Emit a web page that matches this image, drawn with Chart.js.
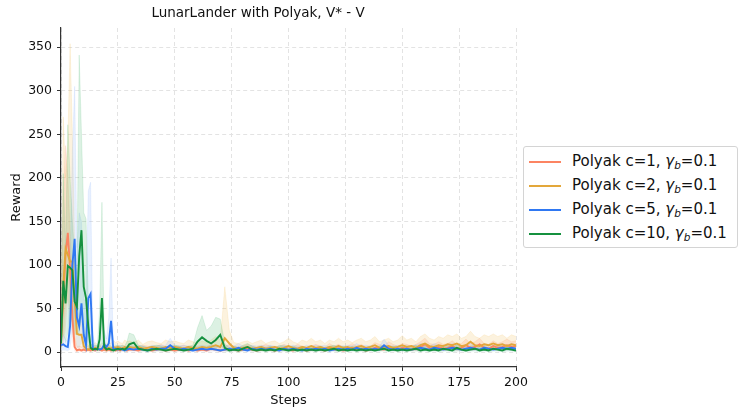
<!DOCTYPE html>
<html>
<head>
<meta charset="utf-8">
<script src="https://cdn.jsdelivr.net/npm/chart.js@4"></script>
<style>
  html, body { margin: 0; padding: 0; background: #fff; }
  #wrap { position: relative; width: 748px; height: 417px; }
  #legend {
    position: absolute; left: 523px; top: 146px; width: 215px; height: 102px;
    box-sizing: border-box; border: 1px solid #d4d4d4; border-radius: 3px; background: #fff;
    font-family: "DejaVu Sans", sans-serif; font-size: 15px; color: #111;
  }
  .item { position: absolute; left: 5px; height: 20px; line-height: 20px; white-space: nowrap; }
  .item span.sw { display: inline-block; width: 32px; height: 2px; vertical-align: middle; margin-right: 11px; }
  .item i { font-style: italic; }
  .item sub { font-size: 10.5px; font-style: italic; vertical-align: -3px; line-height: 0; }
</style>
</head>
<body>
<div id="wrap">
  <canvas id="chart" width="748" height="417"></canvas>
  <div id="legend"></div>
</div>
<script>
// Steps (x values): every step up to 30, every second step after
const steps = [
  0, 1, 2, 3, 4, 5, 6, 7, 8, 9,
  10, 11, 12, 13, 14, 15, 16, 17, 18, 19,
  20, 21, 22, 23, 24, 25, 26, 27, 28, 29, 30,
  32, 34, 36, 38, 40, 42, 44, 46, 48, 50,
  52, 54, 56, 58, 60, 62, 64, 66, 68, 70,
  72, 74, 76, 78, 80, 82, 84, 86, 88, 90,
  92, 94, 96, 98, 100, 102, 104, 106, 108, 110,
  112, 114, 116, 118, 120, 122, 124, 126, 128, 130,
  132, 134, 136, 138, 140, 142, 144, 146, 148, 150,
  152, 154, 156, 158, 160, 162, 164, 166, 168, 170,
  172, 174, 176, 178, 180, 182, 184, 186, 188, 190,
  192, 194, 196, 198, 200
];

const xTicks = [0, 25, 50, 75, 100, 125, 150, 175, 200];
const yTicks = [0, 50, 100, 150, 200, 250, 300, 350];

// Polyak c=1
const c1Mean = [
  15, 60, 112, 137, 95, 40, 6, 2, 3, 2,
  3, 2, 3, 2, 3, 2, 4, 3, 2, 3,
  2, 3, 2, 3, 2, 3, 2, 4, 3, 2, 3,
  3, 2, 4, 3, 2, 3, 4, 2, 3, 2,
  3, 4, 2, 3, 2, 3, 2, 4, 3, 2,
  3, 4, 3, 2, 3, 4, 3, 2, 3, 4,
  3, 2, 3, 4, 3, 2, 4, 3, 2, 3,
  4, 3, 2, 5, 3, 4, 2, 3, 5, 3,
  4, 2, 3, 5, 4, 3, 6, 4, 3, 5,
  4, 3, 4, 6, 9, 5, 4, 6, 4, 5,
  7, 4, 5, 8, 5, 6, 9, 5, 4, 7,
  5, 6, 8, 6, 7
];
const c1Upper = [
  30, 172, 237, 200, 140, 80, 20, 6, 7, 6,
  7, 6, 7, 5, 7, 6, 8, 7, 6, 7,
  6, 7, 5, 7, 6, 7, 6, 8, 7, 6, 7,
  7, 6, 8, 7, 6, 7, 9, 6, 7, 6,
  7, 8, 6, 7, 6, 7, 6, 9, 7, 6,
  7, 9, 7, 6, 7, 9, 7, 6, 7, 9,
  7, 6, 7, 9, 7, 6, 9, 7, 6, 7,
  9, 7, 6, 10, 7, 9, 6, 7, 10, 7,
  9, 6, 7, 11, 9, 7, 12, 9, 7, 10,
  9, 7, 9, 12, 16, 10, 9, 12, 9, 10,
  13, 9, 10, 15, 10, 12, 16, 10, 9, 13,
  10, 12, 15, 12, 13
];
const c1Lower = [
  5, 10, 25, 60, 45, 12, 1, 0, 1, 0,
  1, 0, 1, 0, 1, 0, 1, 1, 0, 1,
  0, 1, 0, 1, 0, 1, 0, 1, 1, 0, 1,
  1, 0, 1, 1, 0, 1, 1, 0, 1, 0,
  1, 1, 0, 1, 0, 1, 0, 1, 1, 0,
  1, 1, 1, 0, 1, 1, 1, 0, 1, 1,
  1, 0, 1, 1, 1, 0, 1, 1, 0, 1,
  1, 1, 0, 2, 1, 1, 0, 1, 2, 1,
  1, 0, 1, 2, 1, 1, 2, 1, 1, 2,
  1, 1, 1, 2, 4, 2, 1, 2, 1, 2,
  3, 1, 2, 3, 2, 2, 4, 2, 1, 3,
  2, 2, 3, 2, 3
];

// Polyak c=2
const c2Mean = [
  10, 75, 119, 112, 104, 104, 60, 21, 20, 20,
  7, 4, 3, 4, 3, 5, 4, 3, 4, 5,
  4, 5, 4, 6, 5, 6, 5, 4, 6, 5, 6,
  5, 6, 4, 5, 6, 5, 4, 6, 5, 6,
  5, 4, 6, 5, 4, 6, 5, 6, 8, 6,
  16, 10, 5, 4, 5, 6, 4, 5, 6, 4,
  5, 6, 4, 5, 7, 5, 4, 6, 5, 7,
  5, 6, 4, 6, 5, 7, 5, 6, 4, 6,
  7, 5, 6, 8, 5, 6, 7, 5, 6, 8,
  6, 7, 5, 8, 10, 7, 6, 8, 7, 9,
  8, 10, 7, 8, 12, 8, 7, 9, 8, 10,
  8, 9, 7, 9, 8
];
const c2Upper = [
  30, 270, 200, 240, 354, 250, 120, 50, 40, 35,
  15, 10, 8, 9, 8, 11, 9, 8, 10, 11,
  9, 12, 10, 14, 11, 13, 11, 10, 14, 12, 13,
  11, 14, 9, 12, 13, 11, 10, 14, 12, 13,
  11, 10, 14, 12, 10, 13, 11, 14, 18, 14,
  75, 25, 11, 10, 12, 13, 10, 12, 14, 10,
  12, 13, 10, 12, 16, 12, 10, 14, 12, 16,
  12, 14, 10, 14, 12, 16, 12, 14, 11, 14,
  16, 12, 14, 18, 12, 14, 16, 12, 14, 19,
  14, 16, 12, 18, 21, 16, 14, 18, 16, 20,
  18, 21, 16, 18, 24, 18, 16, 20, 18, 21,
  18, 20, 16, 20, 18
];
const c2Lower = [
  2, 10, 50, 60, 30, 40, 15, 5, 5, 5,
  2, 1, 1, 1, 1, 2, 1, 1, 1, 2,
  1, 2, 1, 2, 2, 2, 2, 1, 2, 2, 2,
  2, 2, 1, 2, 2, 2, 1, 2, 2, 2,
  2, 1, 2, 2, 1, 2, 2, 2, 3, 2,
  3, 2, 2, 1, 2, 2, 1, 2, 2, 1,
  2, 2, 1, 2, 2, 2, 1, 2, 2, 2,
  2, 2, 1, 2, 2, 2, 2, 2, 1, 2,
  2, 2, 2, 3, 2, 2, 2, 2, 2, 3,
  2, 2, 2, 3, 4, 2, 2, 3, 2, 3,
  3, 4, 2, 3, 4, 3, 2, 3, 3, 4,
  3, 3, 2, 3, 3
];

// Polyak c=5
const c5Mean = [
  8, 9, 7, 6, 30, 100, 130, 40, 30, 56,
  20, 8, 62, 67, 4, 3, 4, 3, 4, 9,
  6, 10, 36, 3, 4, 3, 4, 3, 2, 3, 4,
  3, 4, 3, 2, 4, 3, 4, 4, 8, 4,
  3, 4, 3, 2, 3, 4, 3, 4, 3, 2,
  3, 4, 3, 5, 3, 2, 4, 3, 4, 3,
  4, 3, 2, 4, 3, 4, 3, 2, 4, 3,
  4, 3, 4, 2, 3, 4, 3, 4, 3, 5,
  3, 4, 3, 4, 3, 8, 4, 3, 4, 3,
  4, 3, 4, 5, 4, 3, 5, 4, 3, 4,
  5, 4, 3, 4, 5, 4, 3, 5, 4, 3,
  4, 5, 4, 5, 4
];
const c5Upper = [
  15, 20, 15, 12, 100, 230, 305, 120, 160, 150,
  60, 60, 185, 195, 20, 8, 8, 7, 8, 25,
  15, 40, 108, 8, 8, 7, 8, 7, 6, 7, 8,
  7, 8, 7, 6, 8, 7, 8, 8, 16, 8,
  7, 8, 7, 6, 7, 8, 7, 8, 7, 6,
  7, 8, 7, 10, 7, 6, 8, 7, 8, 7,
  8, 7, 6, 8, 7, 8, 7, 6, 8, 7,
  8, 7, 8, 6, 7, 8, 7, 8, 7, 10,
  7, 8, 7, 8, 7, 15, 8, 7, 8, 7,
  8, 7, 8, 10, 8, 7, 10, 8, 7, 8,
  10, 8, 7, 8, 10, 8, 7, 10, 8, 7,
  8, 10, 8, 10, 8
];
const c5Lower = [
  2, 2, 2, 1, 3, 20, 30, 5, 5, 10,
  3, 2, 10, 15, 1, 1, 1, 1, 1, 2,
  1, 2, 4, 1, 1, 1, 1, 1, 0, 1, 1,
  1, 1, 1, 0, 1, 1, 1, 1, 2, 1,
  1, 1, 1, 0, 1, 1, 1, 1, 1, 0,
  1, 1, 1, 1, 1, 0, 1, 1, 1, 1,
  1, 1, 0, 1, 1, 1, 1, 0, 1, 1,
  1, 1, 1, 0, 1, 1, 1, 1, 1, 1,
  1, 1, 1, 1, 1, 2, 1, 1, 1, 1,
  1, 1, 1, 1, 1, 1, 1, 1, 1, 1,
  1, 1, 1, 1, 1, 1, 1, 1, 1, 1,
  1, 1, 1, 1, 1
];

// Polyak c=10
const c10Mean = [
  10, 82, 56, 99, 97, 94, 58, 52, 110, 140,
  75, 62, 30, 5, 3, 4, 3, 15, 62, 6,
  3, 4, 3, 2, 3, 4, 3, 4, 3, 5, 9,
  11, 4, 3, 2, 3, 4, 3, 2, 3, 4,
  3, 2, 3, 4, 12, 17, 13, 10, 14, 20,
  5, 2, 3, 2, 4, 6, 3, 2, 3, 2,
  3, 2, 4, 3, 2, 3, 2, 3, 2, 3,
  2, 3, 2, 3, 4, 2, 3, 2, 3, 2,
  3, 2, 3, 2, 3, 4, 2, 3, 2, 3,
  2, 3, 4, 2, 3, 2, 3, 2, 4, 3,
  2, 5, 3, 2, 3, 4, 2, 3, 2, 4,
  3, 2, 4, 3, 2
];
const c10Upper = [
  20, 205, 120, 261, 200, 150, 110, 90, 341, 250,
  160, 153, 60, 10, 7, 8, 7, 50, 172, 15,
  7, 8, 7, 5, 7, 8, 7, 8, 7, 12, 22,
  20, 8, 7, 5, 7, 8, 7, 5, 7, 8,
  7, 5, 7, 8, 28, 42, 25, 30, 40, 38,
  10, 5, 7, 5, 8, 10, 7, 5, 7, 5,
  7, 5, 8, 7, 5, 7, 5, 7, 5, 7,
  5, 7, 5, 7, 8, 5, 7, 5, 7, 5,
  7, 5, 7, 5, 7, 8, 5, 7, 5, 7,
  5, 7, 8, 5, 7, 5, 7, 5, 8, 7,
  5, 9, 7, 5, 7, 8, 5, 7, 5, 8,
  7, 5, 8, 7, 5
];
const c10Lower = [
  3, 20, 10, 20, 30, 40, 20, 20, 20, 40,
  20, 10, 3, 1, 1, 1, 1, 3, 10, 1,
  1, 1, 1, 0, 1, 1, 1, 1, 1, 1, 3,
  3, 1, 1, 0, 1, 1, 1, 0, 1, 1,
  1, 0, 1, 1, 4, 6, 4, 3, 3, 8,
  1, 0, 1, 0, 1, 2, 1, 0, 1, 0,
  1, 0, 1, 1, 0, 1, 0, 1, 0, 1,
  0, 1, 0, 1, 1, 0, 1, 0, 1, 0,
  1, 0, 1, 0, 1, 1, 0, 1, 0, 1,
  0, 1, 1, 0, 1, 0, 1, 0, 1, 1,
  0, 1, 1, 0, 1, 1, 0, 1, 0, 1,
  1, 0, 1, 1, 0
];

const seriesNames = ['c=1', 'c=2', 'c=5', 'c=10'];
const seriesColors = ['#fc8462', '#e3a73a', '#2f78f2', '#15913f'];
const bandColors = ['rgba(252,132,98,0.18)', 'rgba(240,190,90,0.2)', 'rgba(140,180,250,0.2)', 'rgba(60,180,100,0.18)'];

const means = [c1Mean, c2Mean, c5Mean, c10Mean];
const uppers = [c1Upper, c2Upper, c5Upper, c10Upper];
const lowers = [c1Lower, c2Lower, c5Lower, c10Lower];

function pts(values) {
  return values.map((v, i) => ({ x: steps[i], y: v }));
}

// bands first (drawn behind), then lines; green on top like matplotlib
const datasets = [];
for (let i = 0; i < 4; i++) {
  const lowIdx = datasets.length;
  datasets.push({
    data: pts(lowers[i]), borderWidth: 0, pointRadius: 0, fill: false,
    borderColor: 'transparent', order: 20 - i * 2
  });
  datasets.push({
    data: pts(uppers[i]), borderWidth: 0.8, pointRadius: 0,
    borderColor: bandColors[i], backgroundColor: bandColors[i],
    fill: { target: lowIdx }, order: 19 - i * 2
  });
}
for (let i = 0; i < 4; i++) {
  datasets.push({
    label: 'Polyak ' + seriesNames[i],
    data: pts(means[i]), borderColor: seriesColors[i], borderWidth: 1.9,
    pointRadius: 0, fill: false, order: 4 - i
  });
}

const tickFont = { family: 'DejaVu Sans', size: 12.5 };

new Chart(document.getElementById('chart'), {
  type: 'line',
  data: { datasets },
  options: {
    responsive: false,
    animation: false,
    events: [],
    layout: { padding: { left: 0, right: 232, top: 0, bottom: 0 } },
    plugins: {
      legend: { display: false },
      tooltip: { enabled: false },
      title: {
        display: true, text: 'LunarLander with Polyak, V* - V', color: '#111',
        font: { family: 'DejaVu Sans', size: 13.5, weight: 'normal' },
        padding: { top: 5, bottom: 6.8 }
      }
    },
    scales: {
      x: {
        type: 'linear', min: 0, max: 200,
        afterFit: s => { s.height = 50; },
        afterBuildTicks: s => { s.ticks = xTicks.map(v => ({ value: v })); },
        ticks: { color: '#111', font: tickFont, padding: 4, maxRotation: 0 },
        grid: { color: '#e3e3e3', lineWidth: 1, tickLength: 4, tickColor: '#333', tickBorderDash: [] },
        border: { color: '#333', width: 1.2, dash: [4, 3] },
        title: { display: true, text: 'Steps', color: '#111', font: { family: 'DejaVu Sans', size: 13 }, padding: { top: 0, bottom: 9 } }
      },
      y: {
        type: 'linear', min: -17, max: 372,
        afterFit: s => { s.width = 61; },
        afterBuildTicks: s => { s.ticks = yTicks.map(v => ({ value: v })); },
        ticks: { color: '#111', font: tickFont, padding: 5 },
        grid: { color: '#e3e3e3', lineWidth: 1, tickLength: 4, tickColor: '#333', tickBorderDash: [] },
        border: { color: '#333', width: 1.2, dash: [4, 3] },
        title: { display: true, text: 'Reward', color: '#111', font: { family: 'DejaVu Sans', size: 13 }, padding: { top: 9, bottom: 0 } }
      }
    }
  }
});

// legend with italic gamma and subscript b, like the matplotlib mathtext
const legend = document.getElementById('legend');
seriesNames.forEach((name, i) => {
  const row = document.createElement('div');
  row.className = 'item';
  row.style.top = (4 + i * 24) + 'px';
  row.innerHTML = '<span class="sw" style="background-color:' + seriesColors[i] + '"></span>Polyak ' + name +
    ', <i>γ</i><sub>b</sub>=0.1';
  legend.appendChild(row);
});
</script>
</body>
</html>
